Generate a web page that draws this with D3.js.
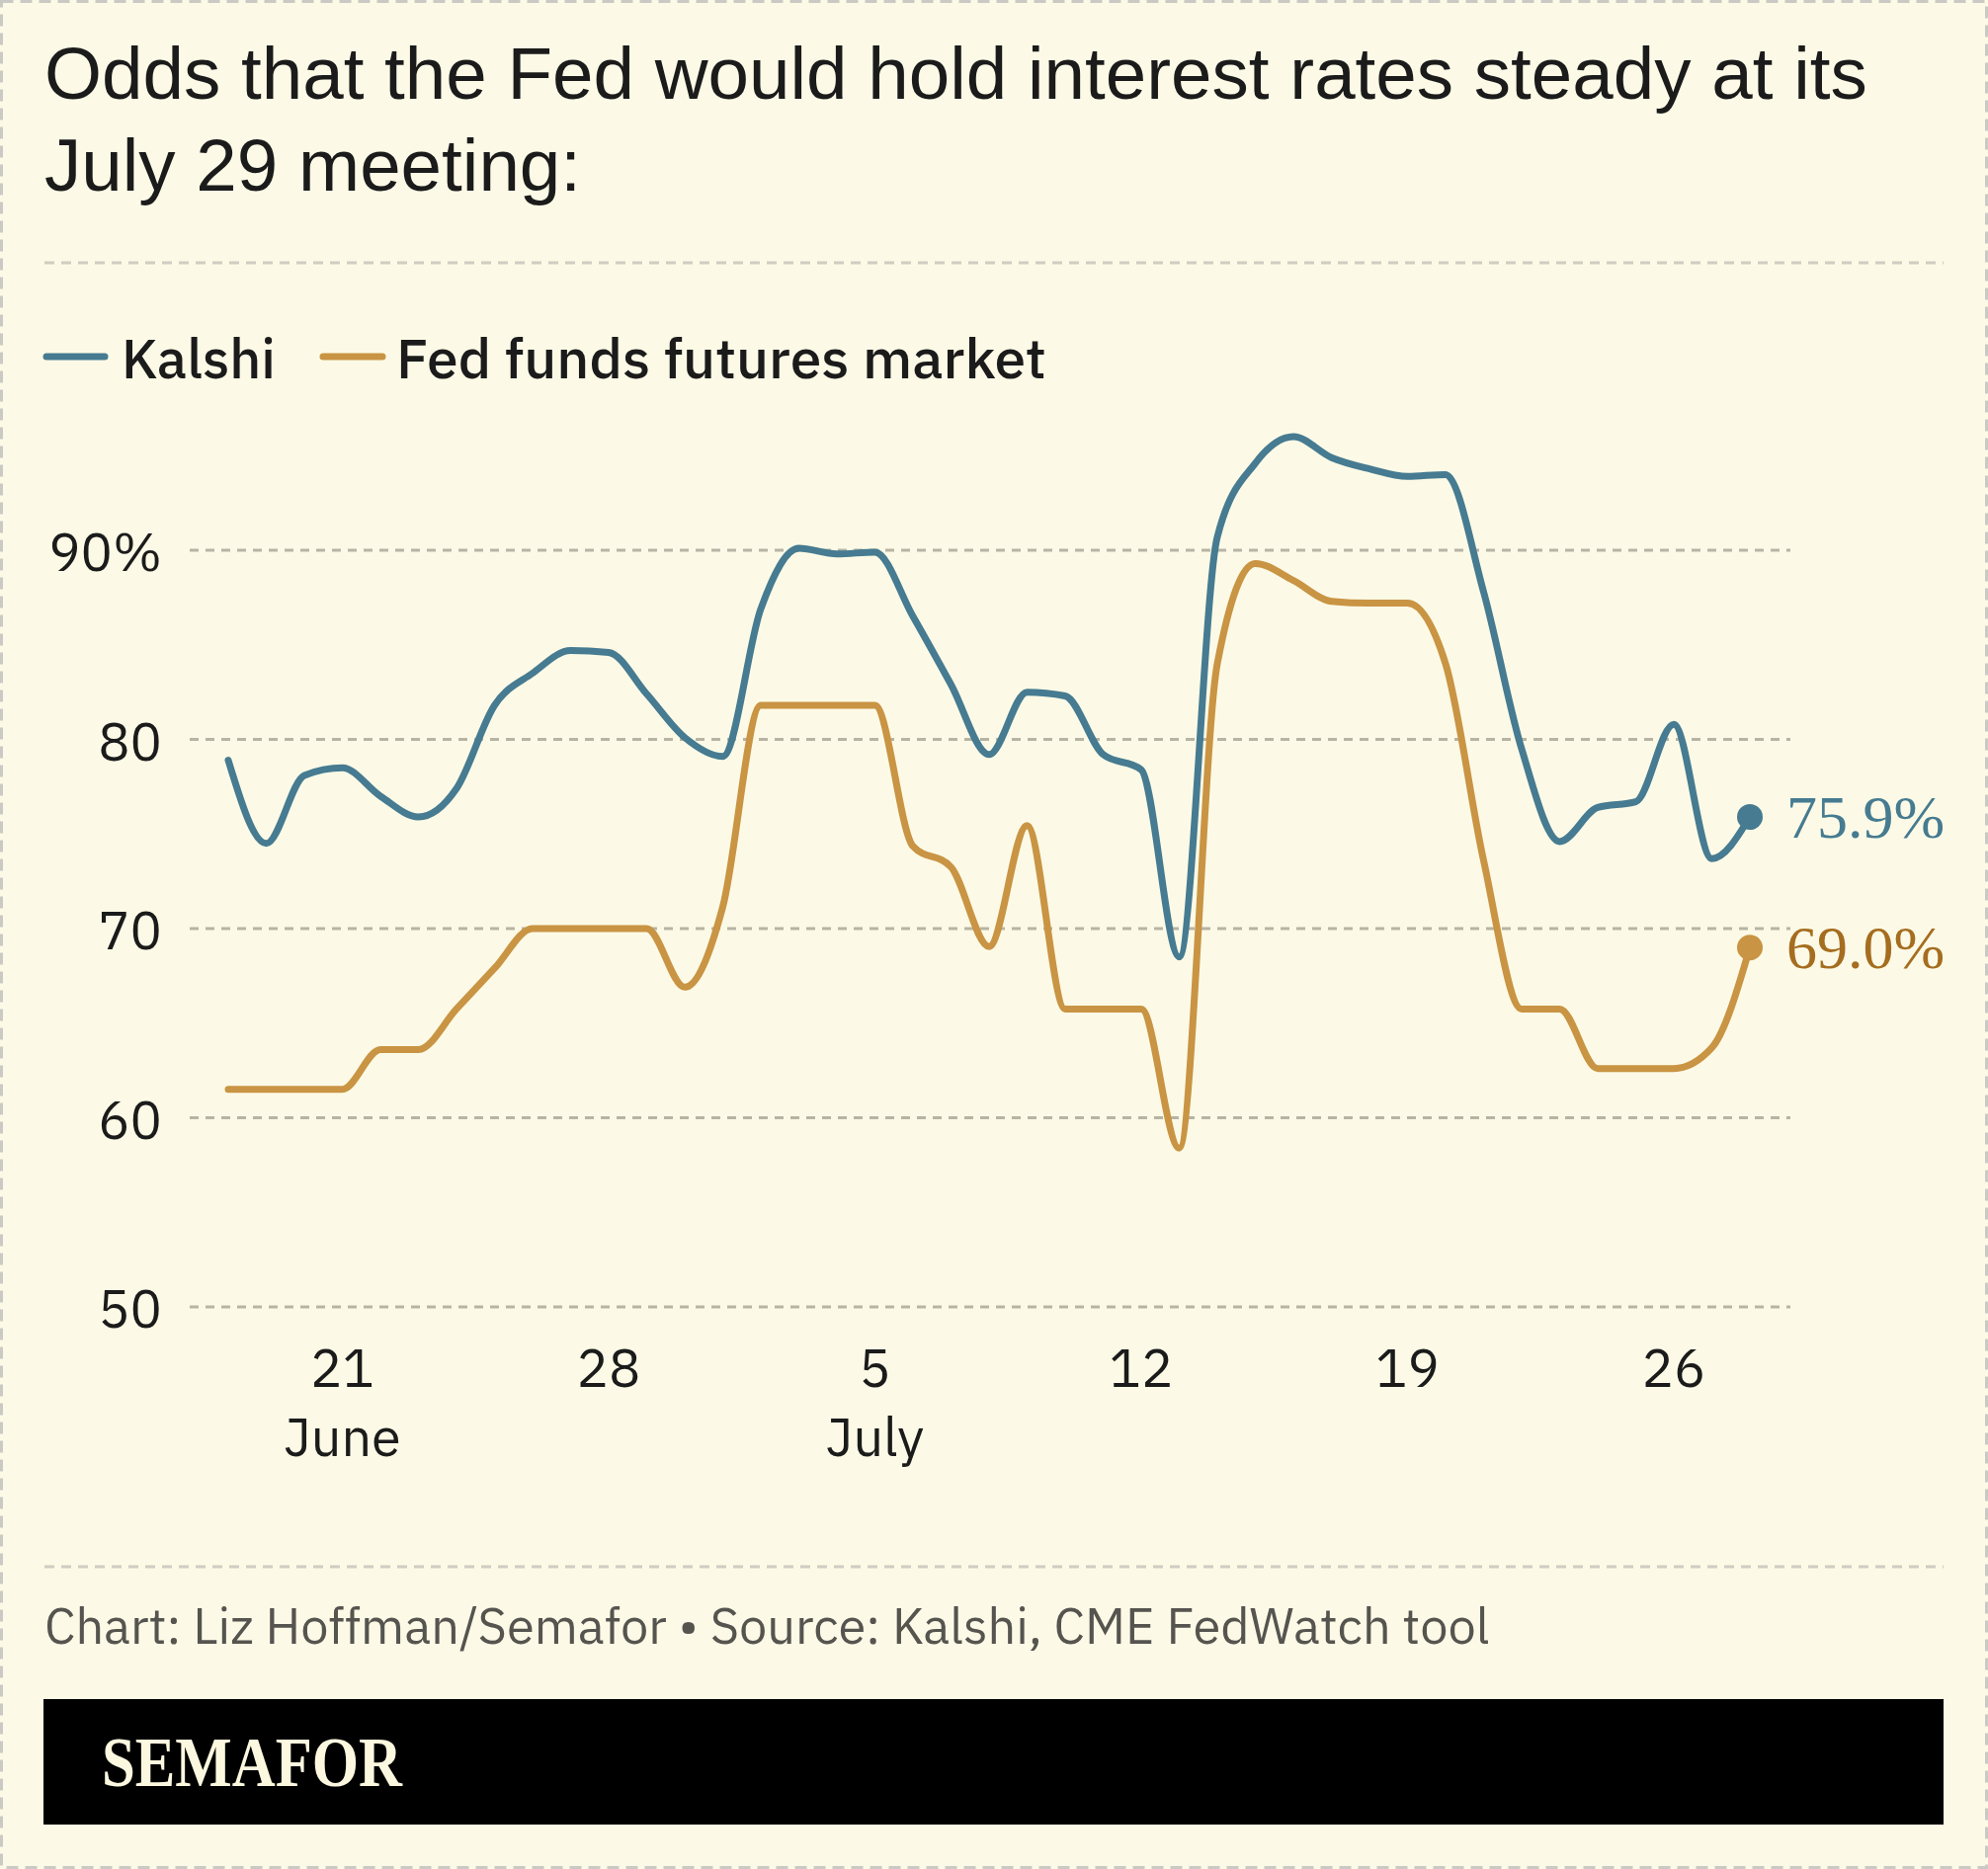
<!DOCTYPE html>
<html>
<head>
<meta charset="utf-8">
<script src="https://cdn.jsdelivr.net/npm/d3@7"></script>
<style>
  body { margin: 0; background: #fcfae6; }
  svg { display: block; }
</style>
</head>
<body>
<div id="canvas"></div>
<script>
// dates, one per day
const dates = [
  "2025-06-18", "2025-06-19", "2025-06-20", "2025-06-21", "2025-06-22", "2025-06-23", "2025-06-24",
  "2025-06-25", "2025-06-26", "2025-06-27", "2025-06-28", "2025-06-29", "2025-06-30", "2025-07-01",
  "2025-07-02", "2025-07-03", "2025-07-04", "2025-07-05", "2025-07-06", "2025-07-07", "2025-07-08",
  "2025-07-09", "2025-07-10", "2025-07-11", "2025-07-12", "2025-07-13", "2025-07-14", "2025-07-15",
  "2025-07-16", "2025-07-17", "2025-07-18", "2025-07-19", "2025-07-20", "2025-07-21", "2025-07-22",
  "2025-07-23", "2025-07-24", "2025-07-25", "2025-07-26", "2025-07-27", "2025-07-28"
];

const kalshi = [
  78.9, 74.5, 78.1, 78.5, 77.0, 75.9, 77.4, 81.8, 83.5, 84.7, 84.6, 82.4, 80.1, 79.1,
  86.9, 90.1, 89.8, 89.9, 86.5, 82.9, 79.2, 82.5, 82.3, 79.2, 78.4, 68.5, 90.7, 94.6,
  96.0, 94.9, 94.3, 93.9, 94.0, 87.8, 79.5, 74.6, 76.4, 76.7, 80.8, 73.7, 75.9
];

const fedFutures = [
  61.5, 61.5, 61.5, 61.5, 63.6, 63.6, 65.75, 67.9, 70.0, 70.0, 70.0, 70.0, 66.9, 71.15,
  81.8, 81.8, 81.8, 81.8, 74.35, 73.25, 69.05, 75.45, 65.75, 65.75, 65.75, 58.4, 84.0, 89.3,
  88.4, 87.3, 87.2, 87.2, 84.0, 73.6, 65.75, 65.75, 62.6, 62.6, 62.6, 63.7, 69.0
];

const yTicks = [50, 60, 70, 80, 90];
const xTicks = ["2025-06-21", "2025-06-28", "2025-07-05", "2025-07-12", "2025-07-19", "2025-07-26"];
const monthLabels = [["2025-06-21", "June"], ["2025-07-05", "July"]];
const seriesNames = ["Kalshi", "Fed funds futures market"];
const endLabels = ["75.9%", "69.0%"];

const w = 2012;
const h = 1892;
const blue = "#467b91";
const gold = "#c99443";
const sans = "'IBM Plex Sans', Roboto, 'Liberation Sans', sans-serif";

const parse = d3.timeParse("%Y-%m-%d");

// shrink or grow a text so it spans the width
const fit = function(sel, target) {
  const node = sel.node();
  const size = parseFloat(sel.attr("font-size"));
  const len = node.getComputedTextLength();
  sel.attr("font-size", (size * target / len).toFixed(2));
  return sel;
};

const svg = d3.select("#canvas")
  .append("svg")
  .attr("width", w)
  .attr("height", h);

svg.append("rect")
  .attr("width", w).attr("height", h)
  .attr("fill", "#fcfae6");

// dashed frame
svg.append("rect")
  .attr("x", 1.5).attr("y", 1.5)
  .attr("width", w - 3).attr("height", h - 3)
  .attr("fill", "none")
  .attr("stroke", "#cbc9c3")
  .attr("stroke-width", 3)
  .attr("stroke-dasharray", "12,7");

// title
const title = svg.append("text")
  .attr("x", 45).attr("y", 100)
  .attr("font-family", "'Liberation Sans', Arial, Helvetica, sans-serif")
  .attr("font-size", 72)
  .attr("fill", "#1b1b1b")
  .text("Odds that the Fed would hold interest rates steady at its");
fit(title, 1845);
svg.append("text")
  .attr("x", 45).attr("y", 193)
  .attr("font-family", "'Liberation Sans', Arial, Helvetica, sans-serif")
  .attr("font-size", title.attr("font-size"))
  .attr("fill", "#1b1b1b")
  .text("July 29 meeting:");

// separators
[266, 1586].forEach(function(yy) {
  svg.append("line")
    .attr("x1", 45).attr("x2", 1967)
    .attr("y1", yy).attr("y2", yy)
    .attr("stroke", "#cfccc2")
    .attr("stroke-width", 3)
    .attr("stroke-dasharray", "10,7");
});

// legend
const legend = [
  { name: seriesNames[0], color: blue, x1: 47, x2: 106, tx: 123, tw: 156 },
  { name: seriesNames[1], color: gold, x1: 327, x2: 387, tx: 401, tw: 658 }
];
legend.forEach(function(d) {
  svg.append("line")
    .attr("x1", d.x1).attr("x2", d.x2)
    .attr("y1", 361).attr("y2", 361)
    .attr("stroke", d.color)
    .attr("stroke-width", 7)
    .attr("stroke-linecap", "round");
  const t = svg.append("text")
    .attr("x", d.tx).attr("y", 383)
    .attr("font-family", sans)
    .attr("font-weight", 500)
    .attr("font-size", 58)
    .attr("fill", "#1b1b1b")
    .text(d.name);
  fit(t, d.tw);
});

// scales
const x = d3.scaleTime()
  .domain([parse(dates[0]), parse(dates[dates.length - 1])])
  .range([231, 1771]);

const y = d3.scaleLinear()
  .domain([50, 90])
  .range([1323, 557]);

// gridlines
svg.append("g")
  .selectAll("line")
  .data(yTicks)
  .enter()
  .append("line")
  .attr("x1", 192).attr("x2", 1812)
  .attr("y1", function(d) { return y(d); })
  .attr("y2", function(d) { return y(d); })
  .attr("stroke", "#b7b4a5")
  .attr("stroke-width", 3)
  .attr("stroke-dasharray", "9,7");

// y labels
svg.append("g")
  .selectAll("text")
  .data(yTicks)
  .enter()
  .append("text")
  .attr("x", 164)
  .attr("y", function(d) { return y(d) + 21; })
  .attr("text-anchor", "end")
  .attr("font-family", sans)
  .attr("font-size", 54)
  .attr("fill", "#1b1b1b")
  .text(function(d) { return d === 90 ? d + "%" : d; });

// x labels
svg.append("g")
  .selectAll("text")
  .data(xTicks)
  .enter()
  .append("text")
  .attr("x", function(d) { return x(parse(d)); })
  .attr("y", 1404)
  .attr("text-anchor", "middle")
  .attr("font-family", sans)
  .attr("font-size", 54)
  .attr("fill", "#1b1b1b")
  .text(function(d) { return parse(d).getDate(); });

svg.append("g")
  .selectAll("text")
  .data(monthLabels)
  .enter()
  .append("text")
  .attr("x", function(d) { return x(parse(d[0])); })
  .attr("y", 1474)
  .attr("text-anchor", "middle")
  .attr("font-family", sans)
  .attr("font-size", 54)
  .attr("fill", "#1b1b1b")
  .text(function(d) { return d[1]; });

// lines
const line = d3.line()
  .x(function(d, i) { return x(parse(dates[i])); })
  .y(function(d) { return y(d); })
  .curve(d3.curveMonotoneX);

const series = [
  { values: fedFutures, color: gold, label: endLabels[1], labelColor: "#a56d1f" },
  { values: kalshi, color: blue, label: endLabels[0], labelColor: blue }
];

series.forEach(function(s) {
  svg.append("path")
    .datum(s.values)
    .attr("d", line)
    .attr("fill", "none")
    .attr("stroke", s.color)
    .attr("stroke-width", 7)
    .attr("stroke-linejoin", "round")
    .attr("stroke-linecap", "round");

  const last = s.values[s.values.length - 1];
  const lx = x(parse(dates[dates.length - 1]));
  svg.append("circle")
    .attr("cx", lx)
    .attr("cy", y(last))
    .attr("r", 13)
    .attr("fill", s.color);

  svg.append("text")
    .attr("x", lx + 37)
    .attr("y", y(last) + 21)
    .attr("font-family", "'Liberation Serif', 'DejaVu Serif', serif")
    .attr("font-size", 62)
    .attr("fill", s.labelColor)
    .text(s.label);
});

// source
const src = svg.append("text")
  .attr("x", 45).attr("y", 1664)
  .attr("font-family", sans)
  .attr("font-size", 55)
  .attr("fill", "#56544f")
  .text("Chart: Liz Hoffman/Semafor \u2022 Source: Kalshi, CME FedWatch tool");
fit(src, 1463);

// brand bar
svg.append("rect")
  .attr("x", 44).attr("y", 1720)
  .attr("width", 1923).attr("height", 127)
  .attr("fill", "#000");

svg.append("text")
  .attr("x", 103).attr("y", 1808)
  .attr("font-family", "'Liberation Serif', 'DejaVu Serif', serif")
  .attr("font-weight", 700)
  .attr("font-size", 72)
  .attr("fill", "#fcf8e0")
  .attr("textLength", 304)
  .attr("lengthAdjust", "spacingAndGlyphs")
  .text("SEMAFOR");
</script>
</body>
</html>
